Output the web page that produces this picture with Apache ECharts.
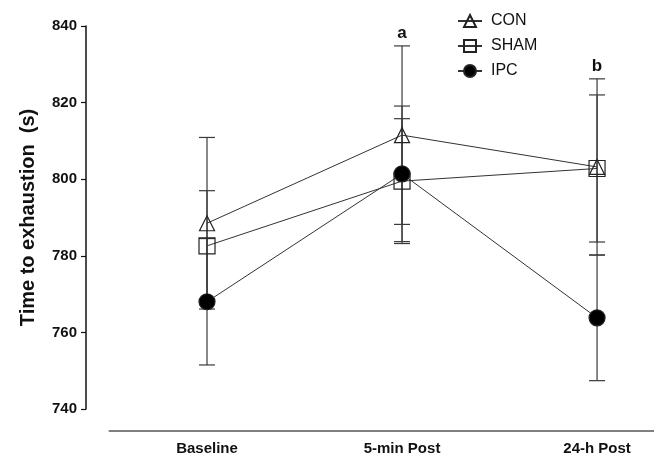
<!DOCTYPE html>
<html><head><meta charset="utf-8">
<script src="https://cdn.jsdelivr.net/npm/echarts@6/dist/echarts.min.js"></script>
<style>html,body{margin:0;padding:0;background:#fff}#c{width:654px;height:457px}</style>
</head><body><div id="c"></div>
<script>
const categories = ['Baseline', '5-min Post', '24-h Post'];
const conMean = [788.5, 811.5, 803.2];
const conErr = [22.4, 23.3, 23.0];
const shamMean = [782.6, 799.5, 802.8];
const shamErr = [14.4, 16.3, 19.2];
const ipcMean = [768.0, 801.4, 763.8];
const ipcErr = [16.5, 17.7, 16.4];
const yTicks = [740, 760, 780, 800, 820, 840];
const sigLabels = [{ idx: 1, text: 'a', top: 834.8 }, { idx: 2, text: 'b', top: 826.2 }];

const FONT = 'Liberation Sans, Arial, sans-serif';
const chart = echarts.init(document.getElementById('c'));

function pts(m) { return m.map((v, i) => [i, v]); }
function errData(m, e) { return m.map((v, i) => [i, v, e[i]]); }

function errSeries(name, m, e) {
  return {
    type: 'custom', name: name + '_err', z: 1, silent: true,
    data: errData(m, e),
    renderItem: function (params, api) {
      const x = api.value(0), v = api.value(1), er = api.value(2);
      const t = api.coord([x, v + er]), b = api.coord([x, v - er]);
      const w = 8;
      const st = { stroke: '#3a3a3a', lineWidth: 1.2 };
      return { type: 'group', children: [
        { type: 'line', shape: { x1: t[0], y1: t[1], x2: b[0], y2: b[1] }, style: st },
        { type: 'line', shape: { x1: t[0] - w, y1: t[1], x2: t[0] + w, y2: t[1] }, style: st },
        { type: 'line', shape: { x1: b[0] - w, y1: b[1], x2: b[0] + w, y2: b[1] }, style: st }
      ]};
    }
  };
}

function lineSeries(name, m, symbol, size, filled) {
  return {
    type: 'line', name: name, data: pts(m), z: 3,
    symbol: symbol, symbolSize: size, showAllSymbol: true,
    lineStyle: { color: '#333', width: 1 },
    itemStyle: { color: filled ? '#000' : 'rgba(255,255,255,0)', borderColor: '#222', borderWidth: 1.2 },
    emphasis: { disabled: true }
  };
}

const option = {
  animation: false,
  backgroundColor: '#fff',
  grid: { left: 109.5, right: 0, top: 26, bottom: 48, containLabel: false },
  legend: {
    orient: 'vertical', left: 452, top: 8, itemGap: 9,
    itemWidth: 24, itemHeight: 15,
    data: ['CON', 'SHAM', 'IPC'],
    textStyle: { fontFamily: FONT, fontSize: 16, color: '#111', padding: [0, 0, 0, 4] }
  },
  xAxis: {
    type: 'value', min: -0.5, max: 2.292, interval: 0.5, offset: 22,
    axisLine: { show: true, onZero: false, lineStyle: { color: '#808080', width: 2 } },
    axisTick: { show: false },
    splitLine: { show: false },
    axisLabel: {
      showMinLabel: false, showMaxLabel: false, margin: 10,
      fontFamily: FONT, fontSize: 15, fontWeight: 'bold', color: '#111',
      formatter: function (v) { return Number.isInteger(v) && v >= 0 && v < categories.length ? categories[v] : ''; }
    }
  },
  yAxis: {
    type: 'value', min: yTicks[0], max: yTicks[yTicks.length - 1], interval: 20, offset: 23.5,
    name: 'Time to exhaustion  (s)', nameLocation: 'middle', nameGap: 48,
    nameTextStyle: { fontFamily: FONT, fontSize: 20, fontWeight: 'bold', color: '#111' },
    axisLine: { show: true, onZero: false, lineStyle: { color: '#111', width: 1.5 } },
    axisTick: { show: true, length: 5, lineStyle: { color: '#111', width: 1.2 } },
    splitLine: { show: false },
    axisLabel: { margin: 9, fontFamily: FONT, fontSize: 15, fontWeight: 'bold', color: '#111' }
  },
  series: [
    errSeries('CON', conMean, conErr),
    errSeries('SHAM', shamMean, shamErr),
    errSeries('IPC', ipcMean, ipcErr),
    lineSeries('CON', conMean, 'triangle', 15, false),
    lineSeries('SHAM', shamMean, 'rect', 16, false),
    lineSeries('IPC', ipcMean, 'circle', 16, true),
    {
      type: 'custom', name: 'sig', silent: true, z: 4,
      data: sigLabels.map(s => [s.idx, s.top, s.text]),
      renderItem: function (params, api) {
        const p = api.coord([api.value(0), api.value(1)]);
        return { type: 'text', x: p[0], y: p[1] - 13,
          style: { text: sigLabels[params.dataIndex].text, align: 'center', verticalAlign: 'middle',
            font: 'bold 17px ' + FONT, fill: '#111' } };
      }
    }
  ]
};
chart.setOption(option);
</script></body></html>
